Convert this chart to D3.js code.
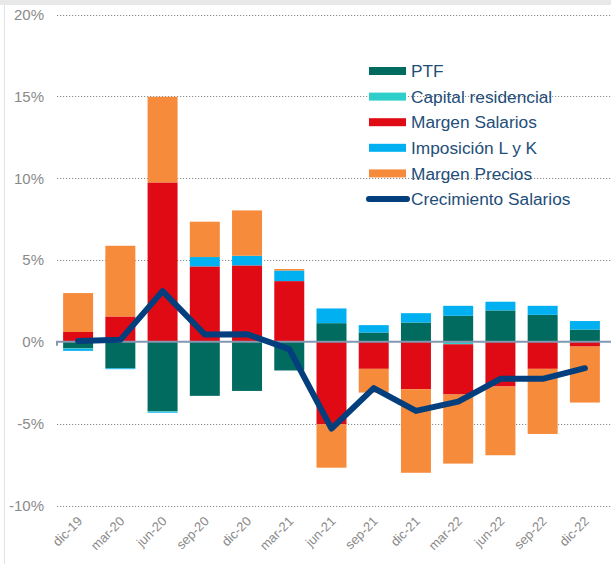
<!DOCTYPE html>
<html>
<head>
<meta charset="utf-8">
<script src="https://cdn.jsdelivr.net/npm/d3@7"></script>
<style>
    body { margin: 0; background: #fff; }
    svg { display: block; font-family: 'Liberation Sans', Arial, sans-serif; }
</style>
</head>
<body>
<div id="chart"></div>
<script>
var categories = ['dic-19', 'mar-20', 'jun-20', 'sep-20', 'dic-20', 'mar-21', 'jun-21',
    'sep-21', 'dic-21', 'mar-22', 'jun-22', 'sep-22', 'dic-22'];

var ptf = [-0.4, -1.62, -4.25, -3.3, -3.0, -1.75, 1.14, 0.57, 1.18, 1.59, 1.92, 1.65, 0.75];
var capitalResidencial = [-0.03, 0, -0.03, 0, 0, 0, 0, 0, 0, -0.15, 0, 0, 0];
var margenSalarios = [0.6, 1.55, 9.74, 4.61, 4.67, 3.71, -5.04, -1.65, -2.89, -3.07, -2.73, -1.65, -0.29];
var imposicion = [-0.12, -0.05, -0.05, 0.57, 0.59, 0.65, 0.9, 0.45, 0.57, 0.61, 0.53, 0.55, 0.52];
var margenPrecios = [2.38, 4.32, 5.23, 2.16, 2.77, 0.09, -2.65, -1.45, -5.11, -4.22, -4.2, -3.98, -3.42];
var crecimientoSalarios = [0.05, 0.12, 3.1, 0.45, 0.47, -0.45, -5.3, -2.83, -4.22, -3.65, -2.26, -2.26, -1.61];

var yTicks = [20, 15, 10, 5, 0, -5, -10];

var series = [
    { key: 'PTF', values: ptf, color: '#006B5E' },
    { key: 'Capital residencial', values: capitalResidencial, color: '#2ECFCB' },
    { key: 'Margen Salarios', values: margenSalarios, color: '#DF0A14' },
    { key: 'Imposición L y K', values: imposicion, color: '#00B0F0' },
    { key: 'Margen Precios', values: margenPrecios, color: '#F68B3B' }
];
var lineColor = '#033F7D';

var width = 611;
var height = 564;

var svg = d3.select('#chart')
    .append('svg')
    .attr('width', width)
    .attr('height', height);

// frame like the original screenshot
svg.append('rect')
    .attr('x', 0).attr('y', 0)
    .attr('width', width).attr('height', 5)
    .attr('fill', '#e8e8e8');
svg.append('line')
    .attr('x1', 4.5).attr('x2', 4.5)
    .attr('y1', 5).attr('y2', height)
    .attr('stroke', '#e4e4e4');

var x = d3.scaleBand()
    .domain(categories)
    .range([57, 606])
    .paddingInner(0.29)
    .paddingOuter(0.145);

var y = d3.scaleLinear()
    .domain([-10, 20])
    .range([505.5, 14.5]);

// gridlines
svg.append('g')
    .selectAll('line')
    .data(yTicks.filter(function(d) { return d !== 0; }))
    .enter()
    .append('line')
    .attr('x1', 57)
    .attr('x2', width)
    .attr('y1', function(d) { return Math.round(y(d)) + 0.5; })
    .attr('y2', function(d) { return Math.round(y(d)) + 0.5; })
    .attr('stroke', '#8c8c8c')
    .attr('stroke-width', 1.2)
    .attr('stroke-dasharray', '1.2,1.8');

// y labels
svg.append('g')
    .selectAll('text')
    .data(yTicks)
    .enter()
    .append('text')
    .attr('x', 44)
    .attr('y', function(d) { return y(d); })
    .attr('dy', '0.36em')
    .attr('text-anchor', 'end')
    .attr('font-size', 15)
    .attr('fill', '#8a8a8a')
    .text(function(d) { return d + '%'; });

// stacked bars
var rows = categories.map(function(c, i) {
    var row = { cat: c };
    series.forEach(function(s) { row[s.key] = s.values[i]; });
    return row;
});

var stack = d3.stack()
    .keys(series.map(function(s) { return s.key; }))
    .offset(d3.stackOffsetDiverging);

var layers = stack(rows);

svg.append('g')
    .selectAll('g')
    .data(layers)
    .enter()
    .append('g')
    .attr('fill', function(d, i) { return series[i].color; })
    .selectAll('rect')
    .data(function(d) { return d; })
    .enter()
    .append('rect')
    .attr('x', function(d) { return x(d.data.cat); })
    .attr('width', x.bandwidth())
    .attr('y', function(d) { return y(Math.max(d[0], d[1])); })
    .attr('height', function(d) { return Math.abs(y(d[0]) - y(d[1])); });

// zero axis
var zeroY = y(0);
svg.append('path')
    .attr('d', 'M57,' + (zeroY + 4) + 'V' + zeroY + 'H' + width)
    .attr('fill', 'none')
    .attr('stroke', '#8497B0')
    .attr('stroke-width', 2);

// x labels
svg.append('g')
    .selectAll('text')
    .data(categories)
    .enter()
    .append('text')
    .attr('transform', function(d) {
        return 'translate(' + (x(d) + x.bandwidth() / 2 + 5) + ',' + 522 + ') rotate(-45)';
    })
    .attr('text-anchor', 'end')
    .attr('font-size', 13)
    .attr('fill', '#8a8a8a')
    .text(function(d) { return d; });

// line
var line = d3.line()
    .x(function(d, i) { return x(categories[i]) + x.bandwidth() / 2; })
    .y(function(d) { return y(d); });

svg.append('path')
    .datum(crecimientoSalarios)
    .attr('d', line)
    .attr('fill', 'none')
    .attr('stroke', lineColor)
    .attr('stroke-width', 6)
    .attr('stroke-linejoin', 'round')
    .attr('stroke-linecap', 'round');

// legend
var legendItems = series.map(function(s) { return { key: s.key, color: s.color, type: 'rect' }; })
    .concat([{ key: 'Crecimiento Salarios', color: lineColor, type: 'line' }]);

var legend = svg.selectAll('.legend')
    .data(legendItems)
    .enter()
    .append('g')
    .attr('class', 'legend')
    .attr('transform', function(d, i) {
        return 'translate(369,' + (71 + i * 25.6) + ')';
    });

legend.filter(function(d) { return d.type === 'rect'; })
    .append('rect')
    .attr('x', 0)
    .attr('y', -4)
    .attr('width', 37)
    .attr('height', 8)
    .attr('fill', function(d) { return d.color; });

legend.filter(function(d) { return d.type === 'line'; })
    .append('line')
    .attr('x1', 0)
    .attr('x2', 38)
    .attr('y1', 0)
    .attr('y2', 0)
    .attr('stroke', function(d) { return d.color; })
    .attr('stroke-width', 6)
    .attr('stroke-linecap', 'round');

legend.append('text')
    .attr('x', 42)
    .attr('y', 0)
    .attr('dy', '0.36em')
    .attr('font-size', 17.3)
    .attr('fill', '#1F4E79')
    .text(function(d) { return d.key; });
</script>
</body>
</html>
